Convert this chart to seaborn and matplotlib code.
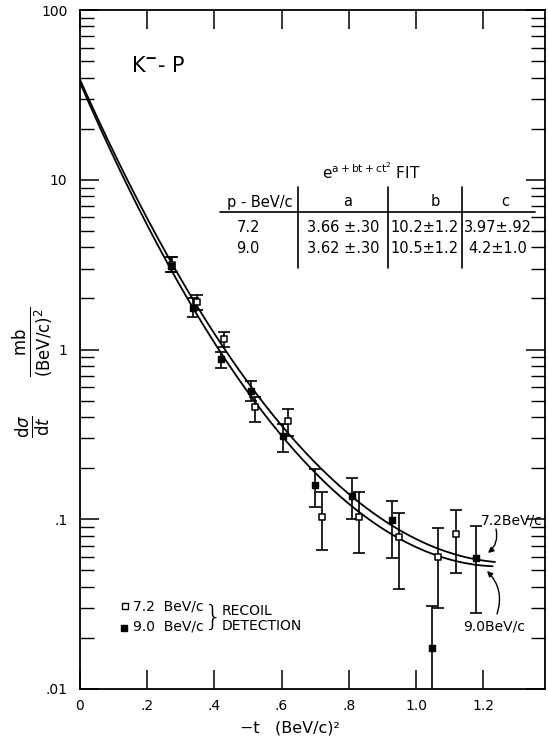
import numpy as np
import pandas as pd
import matplotlib
matplotlib.use("Agg")
import matplotlib.pyplot as plt
from matplotlib.lines import Line2D
from matplotlib.ticker import FixedLocator, FixedFormatter, LogLocator, NullLocator, NullFormatter
import seaborn as sns

# ---------------- data ----------------
# 7.2 BeV/c (open squares)
t72 = [0.275, 0.348, 0.43, 0.52, 0.62, 0.72, 0.83, 0.95, 1.065, 1.12]
y72 = [3.15, 1.90, 1.15, 0.46, 0.38, 0.103, 0.103, 0.0785, 0.060, 0.082]
lo72 = [2.86, 1.70, 1.03, 0.374, 0.31, 0.066, 0.063, 0.039, 0.030, 0.048]
hi72 = [3.50, 2.10, 1.27, 0.525, 0.447, 0.145, 0.145, 0.109, 0.089, 0.113]
# 9.0 BeV/c (filled squares)
t90 = [0.27, 0.336, 0.42, 0.51, 0.604, 0.70, 0.81, 0.93, 1.048, 1.18]
y90 = [3.10, 1.76, 0.88, 0.57, 0.31, 0.16, 0.137, 0.099, 0.0175, 0.059]
lo90 = [2.86, 1.55, 0.78, 0.50, 0.249, 0.118, 0.100, 0.059, 0.005, 0.028]
hi90 = [3.50, 2.00, 0.97, 0.65, 0.364, 0.198, 0.175, 0.128, 0.031, 0.091]

# fit table (as printed in the chart): dsigma/dt = exp(a + b t + c t^2), t < 0
p_labels = ["7.2", "9.0"]
fit_a = [3.66, 3.62]
fit_b = [10.2, 10.5]
fit_c = [3.97, 4.2]
a_txt = ["3.66 \u00b1.30", "3.62 \u00b1.30"]
b_txt = ["10.2\u00b11.2", "10.5\u00b11.2"]
c_txt = ["3.97\u00b1.92", "4.2\u00b11.0"]
fit_tmax = [1.235, 1.228]

xticks = [0, 0.2, 0.4, 0.6, 0.8, 1.0, 1.2]
xticklabels = ["0", ".2", ".4", ".6", ".8", "1.0", "1.2"]
yticks = [0.01, 0.1, 1, 10, 100]
yticklabels = [".01", ".1", "1", "10", "100"]

# ---------------- style ----------------
sns.set_theme(style="ticks")
plt.rcParams["font.family"] = ["DejaVu Sans"]
plt.rcParams["mathtext.fontset"] = "dejavusans"
for k in ["text.color", "axes.labelcolor", "xtick.color", "ytick.color", "axes.edgecolor"]:
    plt.rcParams[k] = "black"

W, H = 548, 743
fig = plt.figure(figsize=(W / 100, H / 100), dpi=100)
fig.patch.set_facecolor("white")
ax = fig.add_axes([80 / W, 1 - 689 / H, (545 - 80) / W, (689 - 10) / H])
ax.set_facecolor("white")

def fp(x, y):
    """figure fraction from reference pixel coords"""
    return x / W, 1 - y / H

# fit curves
for a, b, c, tm in zip(fit_a, fit_b, fit_c, fit_tmax):
    tt = np.linspace(0, tm, 300)
    df = pd.DataFrame({"t": tt, "y": np.exp(a - b * tt + c * tt ** 2)})
    sns.lineplot(data=df, x="t", y="y", ax=ax, color="black", lw=1.3,
                 estimator=None, sort=False, zorder=2)

# error bars
for tx, yy, lo, hi in [(t72, y72, lo72, hi72), (t90, y90, lo90, hi90)]:
    yy = np.array(yy); lo = np.array(lo); hi = np.array(hi)
    ax.errorbar(tx, yy, yerr=[yy - lo, hi - yy], fmt="none", ecolor="black",
                elinewidth=1.2, capsize=4.2, capthick=1.2, zorder=3)

sns.scatterplot(x=t72, y=y72, ax=ax, marker="s", s=20, facecolor="white",
                edgecolor="black", linewidth=1.1, zorder=5)
sns.scatterplot(x=t90, y=y90, ax=ax, marker="s", s=20, color="black",
                edgecolor="black", linewidth=1.0, zorder=5)

ax.set_yscale("log")
ax.set_xlim(0, 1.384)
ax.set_ylim(0.01, 100)

ax.xaxis.set_major_locator(FixedLocator(xticks))
ax.xaxis.set_major_formatter(FixedFormatter(xticklabels))
ax.xaxis.set_minor_locator(NullLocator())
ax.yaxis.set_major_locator(FixedLocator(yticks))
ax.yaxis.set_major_formatter(FixedFormatter(yticklabels))
ax.yaxis.set_minor_locator(LogLocator(base=10, subs=np.arange(2, 10)))
ax.yaxis.set_minor_formatter(NullFormatter())

ax.tick_params(axis="both", which="major", direction="in", length=14, width=1.1,
               top=True, right=True, labelsize=10, colors="black")
ax.tick_params(axis="both", which="minor", direction="in", length=10, width=1.0,
               top=True, right=True, colors="black")
ax.tick_params(axis="x", pad=7)
ax.tick_params(axis="y", pad=9)
for sp in ax.spines.values():
    sp.set_linewidth(1.3)
    sp.set_color("black")
ax.set_xlabel("")
ax.set_ylabel("")

# axis titles
fig.text(*fp(290, 728), "\u2212t   (BeV/c)\u00b2", ha="center", va="center", fontsize=11.5)
fig.text(*fp(33, 342), r"$\frac{\mathrm{mb}}{(\mathrm{BeV/c})^2}$", rotation=90,
         ha="center", va="center", fontsize=17)
fig.text(*fp(33, 426), r"$\frac{\mathrm{d}\sigma}{\mathrm{d}t}$", rotation=90,
         ha="center", va="center", fontsize=17)

# K- P label
fig.text(*fp(131, 66), r"K$^{\mathbf{-}}$- P", ha="left", va="center", fontsize=15)

# fit table
fig.text(*fp(322, 172), r"$\mathregular{e^{a+bt+ct^2}}$ FIT", ha="left", va="center", fontsize=11)
fig.text(*fp(227, 202), "p - BeV/c", ha="left", va="center", fontsize=10.5)
for lab, xc in zip(["a", "b", "c"], [348, 435, 505]):
    fig.text(*fp(xc, 202), lab, ha="center", va="center", fontsize=10.5)
for i, yc in enumerate([228, 248]):
    fig.text(*fp(248, yc), p_labels[i], ha="center", va="center", fontsize=10.5)
    fig.text(*fp(343, yc), a_txt[i], ha="center", va="center", fontsize=10.5)
    fig.text(*fp(425, yc), b_txt[i], ha="center", va="center", fontsize=10.5)
    fig.text(*fp(498, yc), c_txt[i], ha="center", va="center", fontsize=10.5)
x0, y0 = fp(220, 212); x1, _ = fp(535, 212)
fig.add_artist(Line2D([x0, x1], [y0, y0], color="black", lw=1.2, transform=fig.transFigure))
for xv in [298, 388, 462]:
    xa, ya = fp(xv, 187); _, yb = fp(xv, 268)
    fig.add_artist(Line2D([xa, xa], [ya, yb], color="black", lw=1.2, transform=fig.transFigure))

# legend
fig.add_artist(Line2D([fp(125, 0)[0]], [fp(0, 606)[1]], marker="s", ms=4.5, mfc="white",
                      mec="black", mew=1.0, ls="none", transform=fig.transFigure))
fig.add_artist(Line2D([fp(124, 0)[0]], [fp(0, 628)[1]], marker="s", ms=4.5, mfc="black",
                      mec="black", ls="none", transform=fig.transFigure))
fig.text(*fp(133, 607), "7.2  BeV/c", ha="left", va="center", fontsize=10)
fig.text(*fp(133, 627), "9.0  BeV/c", ha="left", va="center", fontsize=10)
fig.text(*fp(212, 618), "}", ha="center", va="center", fontsize=21, fontweight="light")
fig.text(*fp(222, 611), "RECOIL", ha="left", va="center", fontsize=10)
fig.text(*fp(222, 626), "DETECTION", ha="left", va="center", fontsize=10)

# curve labels with arrows
fig.text(*fp(512, 521), "7.2BeV/c", ha="center", va="center", fontsize=10)
fig.text(*fp(494, 627), "9.0BeV/c", ha="center", va="center", fontsize=10)
ax.annotate("", xy=(488, H - 553), xycoords="figure pixels",
            xytext=(496, H - 529), textcoords="figure pixels",
            arrowprops=dict(arrowstyle="-|>", color="black", lw=1.0, mutation_scale=8,
                            shrinkA=0, shrinkB=0, connectionstyle="arc3,rad=-0.3"))
ax.annotate("", xy=(487, H - 571), xycoords="figure pixels",
            xytext=(497, H - 614), textcoords="figure pixels",
            arrowprops=dict(arrowstyle="-|>", color="black", lw=1.0, mutation_scale=8,
                            shrinkA=0, shrinkB=0, connectionstyle="arc3,rad=0.3"))

fig.savefig("out.png", dpi=100, facecolor="white")
